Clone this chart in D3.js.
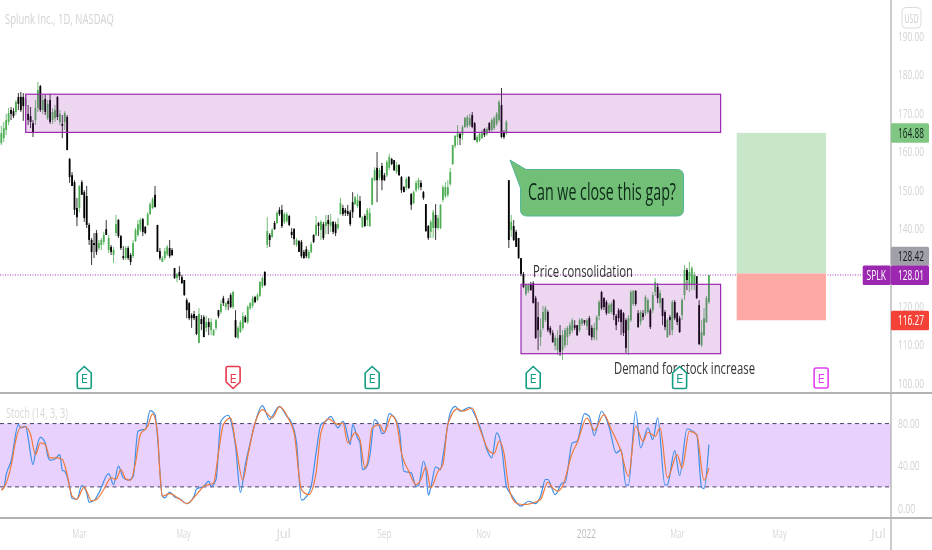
<!DOCTYPE html>
<html><head><meta charset="utf-8">
<script src="https://cdn.jsdelivr.net/npm/d3@7/dist/d3.min.js"></script>
<style>html,body{margin:0;padding:0;background:#fff;overflow:hidden}svg{display:block;filter:blur(0.45px)}text{font-family:"Liberation Sans Narrow","Open Sans",sans-serif}</style>
</head><body><svg id="c" width="932" height="550"></svg>
<script>
// Daily candles, bar by bar
const highs=[
166.7,167.7,169.8,171.3,171.6,171.3,173.4,175.2,175.5,175.2,
174.7,172.1,171.6,168.2,173.4,178.1,177.3,174.7,174.7,173.4,
175,171.3,172.1,174.4,170.8,169.5,170.5,169.5,158.4,154.7,
152.6,148,151.3,152.6,150,151.1,141.5,137.6,138.9,139.7,
137.1,137.6,139.2,142.3,138.4,135.8,135.3,143.6,142.5,138.4,
135.5,135.5,135.5,133.7,137.1,140.2,142.3,142.8,142.8,140.7,
144.3,146.9,148.2,151.1,141,135,132.9,135,135.8,137.1,
135,129.8,128.5,130.3,128,126.7,122,121,118.1,118.7,
117.4,119.4,117.6,117.6,117.4,116.8,116.8,114,116.6,118.9,
121.5,122.6,121,122,123.3,123.9,118.9,114.8,116.3,118.4,
117.6,120.2,121,122.6,122.6,123.3,126.4,127.7,129,143,
138.9,140.2,142,144.6,145.6,146.2,144.3,144.3,143.6,140.2,
140.2,137.6,137.1,137.1,134.5,135.5,134.5,136.6,138.6,143.3,
141.8,142.3,141.8,143.6,143.6,143.8,142,141.8,142.8,148,
146.2,145.4,146.2,144.9,149.5,148.5,149,148.5,143.3,143.8,
145.4,145.4,153.2,156,159.9,155.8,157.1,154.5,157.8,159.4,
158.4,157.8,157.3,156.8,153.7,151.1,153.4,153.7,149.3,150,
152.6,153.2,152.6,149.8,146.4,141,142.3,144.9,146.4,143.6,
146.4,151.3,152.1,152.6,155.8,161.7,164.3,166.9,165.1,166.9,
169,169.5,169.8,170.3,167.7,164.3,165.1,165.6,166.1,166.4,
167.7,168.7,169.2,170.3,173.4,176.5,165.6,168.2,152.6,143.6,
142.3,139.7,137.6,132.4,128.8,125.7,125.7,126.2,126.4,122.6,
121,116.8,120,120,118.9,114.8,113.7,112.4,113.7,115,
113.7,114.3,114.8,115.8,116.8,116.3,115,116.8,116.8,116.3,
116.8,117.4,115,115.6,117.6,121.5,123.9,122.3,121.5,120.7,
121,121.8,117.9,119.4,119.2,118.4,116.8,117.6,124.1,124.1,
124.1,118.9,118.9,118.9,122.8,122,119.4,123.6,127.2,125.9,
124.1,122,118.9,116.8,117.6,121.5,121.5,118.4,117.4,122,
130.6,129.8,131.4,130.3,128.8,127.7,121.5,116.3,119.4,122.6,128];
const bodyTops=[
164.8,166.1,168.2,170,170.8,170.5,172.9,174.2,174.2,174.2,
173.7,169.8,169.2,167.4,171.3,176,177,173.4,173.7,172.4,
173.4,170.3,170.8,174.2,169.8,167.2,170,169,158.1,153.9,
152.1,145.4,151.1,152.1,149.5,148.5,141,137.1,136.3,138.9,
136.3,137.1,138.4,139.9,137.6,135.3,134.5,141.2,142.3,138.1,
132.9,135,135,133.2,136.3,139.7,141.2,142.3,142.5,140.5,
143.8,146.4,147.7,148.8,141,134.2,132.4,134.2,135.3,135,
134.5,129.8,128.3,128.8,127.5,126.7,121.5,120.7,117.6,117.9,
117.4,117.9,116.6,117.1,115.8,115.8,115.8,113.7,116.3,118.9,
120.5,122,120.7,121.3,122.8,123.6,116.3,114.3,115.8,117.4,
117.1,119.7,120.7,122,122.3,122.8,126.2,127.2,128.8,139.4,
138.4,139.7,141.5,144.1,144.9,144.9,143.8,143.8,143.3,139.2,
139.9,137.1,136.8,136.6,134,134.7,134,136,138.4,141,
141.5,141.8,141.2,141.8,142.3,141.8,141.8,141.2,141.2,146.7,
145.4,144.9,144.6,144.3,146.9,148.2,147.5,147.2,143,143.3,
144.9,144.1,153.2,155.2,155.8,155.2,156.3,153.9,157.3,158.6,
158.1,157.8,156.5,156.5,153.4,150.8,152.9,153.4,149,149.5,
151.9,152.6,151.9,149.5,146.4,140.7,141.8,144.3,143.6,142.8,
146.2,150.8,150.8,150.8,154.7,161.7,164.1,164.8,164.6,166.4,
168.7,169,168.7,169.5,167.4,163.8,164.6,165.1,165.9,165.9,
167.4,168.2,168.7,169.8,172.9,172.1,165.1,167.7,152.6,141.8,
140.7,139.2,137.6,132.4,128.3,125.4,125.4,125.7,125.9,122,
117.1,113.7,118.4,119.4,118.4,114.3,113,111.7,111.7,112.4,
112.4,113.7,114.3,115,116.3,115,115,116.3,116.6,116.3,
116.3,116.8,114.3,114.3,117.1,121,123.6,122,121,120.2,
120.5,121.5,117.4,118.9,118.9,118.1,116.3,116.8,123.6,123.9,
123.9,118.1,118.4,118.1,122.3,121.5,118.9,122.8,126.2,124.9,
123.3,122,118.4,116.3,117.1,121,121,118.1,116.8,121.5,
129.3,129.3,128.8,129.8,128,127.7,120.2,113.2,116.8,122,128];
const bodyBottoms=[
162.2,163.5,165.6,167.7,169.8,169.2,170.3,172.4,170.8,171.8,
171.8,168.2,167.7,165.1,168.2,171.3,170.8,170.8,170.3,168.7,
167.7,168.2,168.7,169,167.7,166.7,167.7,160.4,153.4,151.1,
144.9,143,145.4,148.8,142.8,141,137.1,134,135.8,134,
135,135.8,136.6,138.4,134.5,134,133.2,138.9,138.1,135,
132.4,132.4,132.4,131.4,132.9,136.8,138.4,139.7,139.2,138.9,
141,143.8,145.4,145.6,134,132.4,131.4,132.4,133.4,132.9,
133.2,127.2,127.2,127.7,125.9,122.8,118.9,116.8,116.8,116.8,
112.7,110.4,115.3,111.9,114.3,114.5,113.7,112.4,114.3,117.4,
118.4,120.7,119.7,120.5,119.7,119.7,111.9,111.7,113.2,114.3,
115.8,115.8,119.4,120,121,121.5,122.6,125.1,125.4,135.8,
137.1,137.9,139.9,141.5,143.8,140.7,141.8,142,141,138.4,
137.3,135.8,134,132.9,132.4,132.9,132.4,134,136.6,138.4,
140.7,139.7,137.6,140.7,141.2,140.7,139.2,138.9,140.2,143.8,
143.8,144.1,143.8,141.2,144.3,146.4,145.9,143,140.5,140.7,
142.3,140.7,146.2,152.6,152.6,153.2,152.6,152.6,153.9,155.8,
156.8,155.2,154.7,153.9,150,149.5,150.6,150.6,146.2,146.7,
150,150.6,150.8,148,139.4,137.6,139.2,140.2,140.2,140.2,
140.2,147.5,148.5,148.8,151.6,156.8,161.5,163.8,163.5,164.3,
166.4,166.7,166.9,166.4,163,162.5,163,163.5,164.3,164.6,
165.6,165.6,166.1,167.2,168.2,163.8,163.8,164.8,137.1,139.7,
137.1,135.3,132.4,128.3,124.9,123.1,123.9,124.1,120.7,111.7,
113.7,111.9,114.3,116.3,113.7,113,110.6,109.6,108.5,108,
108.5,109.8,111.9,112.7,113.7,114.3,112.4,113.7,115.3,115.6,
114.8,112.4,111.9,111.7,113.7,117.4,119.4,119.7,118.1,118.1,
118.4,117.6,115,116.8,115.8,113,109.1,113.7,116.3,120.5,
120.5,114.5,115.8,117.1,118.1,118.4,114.5,118.9,123.6,122,
120.7,117.4,114.5,111.9,116.3,113.7,116.8,115.8,113.2,117.6,
122.8,126.7,125.4,125.4,125.7,122,110.1,109.8,112.4,115.8,121];
const lows=[
161.7,162.5,164.3,166.9,168.2,168.7,169.5,170.8,170.3,168,
165.6,166.9,166.1,163.8,166.9,170.3,170.3,169.8,169.5,168.2,
167.2,167.2,167.7,168.2,166.9,163.5,165.6,160.4,151.9,151.1,
143.6,140.7,144.3,148.8,141.8,140.2,135.8,130.6,132.4,133.2,
134.5,134.5,135.8,138.4,133.7,133.2,131.1,138.1,137.6,134.5,
131.9,131.9,131.9,130.6,132.4,136.6,137.9,139.2,138.1,138.6,
140.7,143.6,145.1,145.6,134,131.9,131.4,131.9,132.9,132.4,
132.9,127,126.2,126.7,125.7,122.6,116.8,116.3,114.3,116.3,
112.4,110.4,113.7,111.9,113.2,112.4,112.4,112.2,113.7,116.8,
117.9,120,118.9,118.9,119.4,119.2,111.7,111.4,113,113.7,
115.6,115.3,118.9,119.4,120.7,121.3,122.3,124.6,125.1,135,
135.3,137.6,139.7,141.2,143.3,140.2,141.2,141.5,140.7,137.6,
135.8,135.3,134,132.4,132.2,132.4,132.2,133.7,136.3,138.1,
138.1,137.1,137.1,138.6,138.6,139.2,138.6,138.1,139.7,143.6,
143.3,143.3,143.3,140.7,142.8,146.2,145.4,142.8,140.2,140.5,
140.7,140.5,146.2,152.4,146.9,152.6,150,152.4,153.4,155.2,
156.5,155,154.2,153.7,149.3,149.5,150,150.3,144.9,146.4,
149.5,150,150,147.5,139.2,137.1,137.6,137.6,137.1,139.7,
139.9,146.9,148,148.2,151.1,156.5,160.9,161.7,161.7,163,
166.1,166.1,166.4,166.1,163,162.2,162.5,163.3,163.8,164.1,
165.1,165.1,165.6,166.7,167.7,163.5,163.3,164.3,135,137.9,
136.8,135.3,132.2,127.7,124.6,122.6,123.3,123.9,120.7,111.4,
108.5,109.6,113.7,115.8,113.2,112.4,110.4,108.5,107.3,107,
106,109.1,109.8,112.2,113,113.7,112.2,113.2,114.8,115,
113.7,112.2,111.1,111.1,111.1,116.3,118.9,118.9,117.6,117.9,
117.9,116.3,113.7,115.8,112.4,112.2,107.8,107.3,115.8,120,
120,114.3,115,116.3,117.4,117.9,114,118.1,122.6,120.7,
119.4,115,113.7,111.7,112.4,112.4,116.3,115,113,116.3,
121.5,124.1,123.6,124.1,124.1,121.8,109.8,109.3,112.2,115.6,120.5];
const directions=
"uuuudduddd"+"uddduududu"+"duudududdd"+"dduddddddd"+"uuududuudd"+
"dudduuuudd"+"uuuddduuud"+"dduddddddd"+"dudduduuud"+"ududduduuu"+
"duuuduuudu"+"dududduudd"+"dudddduudu"+"dudududduu"+"ddddduudud"+
"uuuududduu"+"ddudddu"+"ddu"+"uudddduudu"+"uuuuuuuudu"+"uuudduuudu"+
"duuuuddudu"+"ddddduuddd"+"duuuddduud"+"uuuuudduud"+"udduuudddu"+
"udddddd"+"uuu"+"dduduuduud"+"uddududddu"+"uduuudduuuu";

// Stochastic %K: turning points (bar number, value)
const kBars=[0,1,2,4,7,8,10,11,13,14,16,18,19,20,22,24,25,26,28,29,31,33,35,36,38,40,44,46,48,50,52,54,56,58,59,61,63,64,66,67,69,71,73,76,79,80,83,85,86,88,90,93,94,96,98,100,102,104,107,110,111,114,117,119,121,123,125,127,129,131,133,135,138,140,141,143,144,146,147,148,150,151,153,155,156,157,159,160,163,165,168,170,171,173,174,175,176,178,180,181,184,186,188,192,194,197,199,201,203,205,207,209,213,216,219,221,223,224,227,230,231,234,236,239,241,243,246,249,252,254,256,257,260,262,265,267,269,272,273,276,278,281,285,287,288,290];
const kVals=[17.5,19,31.7,44.3,79,75.9,77.5,66.4,41.2,52.2,67,61.7,49.7,45.3,46.5,50.6,35.8,34.8,20.6,9,8.3,21.3,14.3,5.5,7,14.3,32.6,22.2,39.6,28.5,26.3,29.5,72.7,74.3,74.3,92.3,88.5,68,11.2,9.6,15,10.5,9,4.2,11.2,18.1,20.6,25.4,20.6,27,82.2,87.9,83.2,58.5,15,41.2,61.7,80.6,97,83.8,86.9,96.4,86.9,80.6,61.7,7.4,10.5,20.6,52.2,79,82.2,86.9,75.9,82.2,78.1,60.1,79,66.4,61.7,36.4,40.2,49,83.8,77.5,70.5,71.2,89.5,88.5,75.9,34.8,33.3,20.6,21.3,44.3,36.4,12.1,19,39,36.4,49,90.1,96.4,91.7,95.5,88.5,71.2,55.4,47.5,71.2,58.5,20.6,12.7,1.7,6.4,4.2,11.2,27,27,12.7,23.8,23.8,61.7,63.3,89.5,86.9,68.6,91.7,77.5,52.2,55.4,21.6,21.6,91.7,57,75.9,64.8,85.4,21.6,22.2,54.4,30.7,74.9,69.6,19.7,18.4,60.1];
// Stochastic %D
const dBars=[0,1,4,6,8,10,12,14,16,18,20,23,25,27,29,31,34,35,37,39,42,45,47,49,51,53,55,57,60,62,64,65,66,69,73,76,80,83,87,89,91,94,96,99,101,104,107,111,114,118,120,123,126,129,131,134,138,140,142,145,147,149,150,152,155,157,160,162,164,167,170,172,174,176,179,181,183,187,189,193,196,200,202,204,206,208,211,214,217,221,224,226,228,230,234,236,240,243,247,250,254,257,260,263,265,268,270,273,277,279,282,285,288,290];
const dVals=[16.8,19,39.6,64.8,76.8,76.8,69.6,50.6,61.7,60.1,47.5,47.5,45.9,31.7,11.2,8.3,20,15.9,6.7,8,17.5,28.5,27,36.4,27.6,26.3,42.7,69.6,77.5,89.2,71.2,33.3,11.2,13.7,8.6,4.2,12.7,20.6,23.8,52.2,79,85.4,61.7,26.3,49,80.6,93.3,85.4,95.8,83.2,71.2,17.5,12.7,33.3,71.2,84.4,79,80.6,61.7,71.2,64.8,38,42.7,75.9,79,71.8,87.6,80.6,52.2,34.8,22.2,27,39,19,34.8,41.2,79,93.9,91.7,94.8,75.9,53.8,51.6,63.3,52.2,19,4.8,3.3,4.2,8,24.4,19,15.9,20.6,52.2,61.7,85.4,73.7,88.5,74.3,53.8,30.1,77.5,63.3,71.8,68,75.9,28.5,50.6,38,72.7,69.6,26.3,38];

// Axes
const priceTicks=[190,180,170,160,150,140,120,110,100];
const stochTicks=[80,40,0];
const stochBand=[80,20];
const timeBars=[31.8,74.5,115.5,156.8,197.4,239.6,276.9,318.7,359.3];
const timeLabels=["Mar","May","Jul","Sep","Nov","2022","Mar","May","Jul"];

// Drawings, in price and bar terms
const zoneTop=[174.9,125.6];
const zoneBottom=[165,107.6];
const zoneStartBar=[10,213];
const zoneEndBar=[294.8,294.8];
const positionBars=[301.4,338];
const target=164.88, entry=128.42, stop=116.27, last=128.01;
const earningsBars=[34,95,152,218,278,336];
const earningsKinds=["past","miss","past","past","past","next"];

const W=932,H=550,axisX=891;
const svg=d3.select("#c");
const x=d3.scaleLinear().domain([0,290]).range([1.3,708.9]);
const y=d3.scaleLinear().domain([100,190]).range([383,36]);
const ys=d3.scaleLinear().domain([0,100]).range([508,402.5]);
const upC="#4fae55",dnC="#000";

function fit(sel,perChar){sel.attr("textLength",function(){return this.textContent.length*perChar}).attr("lengthAdjust","spacingAndGlyphs");return sel}

// stoch band
svg.append("rect").attr("x",0).attr("width",axisX).attr("y",ys(stochBand[0])).attr("height",ys(stochBand[1])-ys(stochBand[0])).attr("fill","#e8d2fd");
svg.selectAll(".sb").data(stochBand).join("line").attr("x1",0).attr("x2",axisX).attr("y1",d=>ys(d)).attr("y2",d=>ys(d)).attr("stroke","#4a3a66").attr("stroke-width",1).attr("stroke-dasharray","4 3.5");

// stoch lines
const ln=d3.line().x(d=>x(d[0])).y(d=>ys(d[1])).curve(d3.curveMonotoneX);
svg.append("path").attr("d",ln(kBars.map((b,i)=>[b,kVals[i]]))).attr("fill","none").attr("stroke","#3f8fe8").attr("stroke-width",1.2);
svg.append("path").attr("d",ln(dBars.map((b,i)=>[b,dVals[i]]))).attr("fill","none").attr("stroke","#ee7a3c").attr("stroke-width",1.2);

// last price line
svg.append("line").attr("x1",0).attr("x2",863).attr("y1",y(last)).attr("y2",y(last)).attr("stroke","#a53bbd").attr("stroke-dasharray","1 1.5").attr("stroke-width",1);

// candles
const bars=highs.map((h,i)=>({i,h,l:lows[i],t:bodyTops[i],b:bodyBottoms[i],up:directions[i]==="u"}));
const cg=svg.append("g");
cg.selectAll("line").data(bars).join("line").attr("x1",d=>x(d.i)).attr("x2",d=>x(d.i)).attr("y1",d=>y(d.h)).attr("y2",d=>y(d.l)).attr("stroke",d=>d.up?upC:dnC).attr("stroke-width",.8);
cg.selectAll("rect").data(bars).join("rect").attr("x",d=>x(d.i)-.9).attr("width",1.8).attr("y",d=>y(d.t)).attr("height",d=>Math.max(.8,y(d.b)-y(d.t))).attr("fill",d=>d.up?upC:dnC);

// zones
svg.selectAll(".zone").data(zoneTop).join("rect").attr("x",(d,i)=>x(zoneStartBar[i])).attr("width",(d,i)=>x(zoneEndBar[i])-x(zoneStartBar[i])).attr("y",d=>y(d)).attr("height",(d,i)=>y(zoneBottom[i])-y(d)).attr("fill","#9c27b0").attr("fill-opacity",.19).attr("stroke","#9c27b0").attr("stroke-width",1.2);

// position tool
svg.append("rect").attr("x",x(positionBars[0])).attr("width",x(positionBars[1])-x(positionBars[0])).attr("y",y(target)).attr("height",y(entry)-y(target)).attr("fill","#c8e6c9");
svg.append("rect").attr("x",x(positionBars[0])).attr("width",x(positionBars[1])-x(positionBars[0])).attr("y",y(entry)).attr("height",y(stop)-y(entry)).attr("fill","#ffa9a5");

// callout
svg.append("path").attr("d","M510 160 L526 169.5 H677 Q683.5 169.5 683.5 176 V209.5 Q683.5 216 677 216 H527 Q520.5 216 520.5 209.5 V188 Z").attr("fill","#72bf78").attr("stroke","#55b59a").attr("stroke-width",1);
svg.append("text").text("Can we close this gap?").attr("x",528).attr("y",199.5).attr("font-size",23).attr("fill","#0e2a18").attr("textLength",148).attr("lengthAdjust","spacingAndGlyphs");

// notes
svg.append("text").text("Price consolidation").attr("x",533).attr("y",277).attr("font-size",16).attr("fill","#333").attr("textLength",100).attr("lengthAdjust","spacingAndGlyphs");
svg.append("text").text("Demand for stock increase").attr("x",614).attr("y",374).attr("font-size",16).attr("fill","#333").attr("textLength",141).attr("lengthAdjust","spacingAndGlyphs");

// earnings markers
const mc={past:"#159c82",miss:"#e8394d",next:"#e040f0"};
const eg=svg.selectAll(".em").data(earningsBars).join("g").attr("transform",d=>`translate(${x(d)},0)`);
eg.append("path").attr("d",(d,i)=>{
  const k=earningsKinds[i];
  if(k==="past")return "M-7 373 L0 366.5 L7 373 V387 Q7 388.5 5.5 388.5 H-5.5 Q-7 388.5 -7 387 Z";
  if(k==="miss")return "M-7 368 Q-7 366.5 -5.5 366.5 H5.5 Q7 366.5 7 368 V382 L0 388.5 L-7 382 Z";
  return "M-5 368 H5 Q7 368 7 370 V386 Q7 388 5 388 H-5 Q-7 388 -7 386 V370 Q-7 368 -5 368 Z";
}).attr("fill","#fff").attr("stroke",(d,i)=>mc[earningsKinds[i]]).attr("stroke-width",1.6);
eg.append("text").text("E").attr("text-anchor","middle").attr("y",382.5).attr("font-size",13).attr("fill",(d,i)=>mc[earningsKinds[i]]);

// frame
svg.append("line").attr("x1",0).attr("x2",W).attr("y1",393).attr("y2",393).attr("stroke","#9a9a9a").attr("stroke-width",1.3);
svg.append("line").attr("x1",0).attr("x2",W).attr("y1",518).attr("y2",518).attr("stroke","#9a9a9a").attr("stroke-width",1.3);
svg.append("line").attr("x1",axisX).attr("x2",axisX).attr("y1",0).attr("y2",H).attr("stroke","#b5b5b5").attr("stroke-width",1.4);

// axes
const lc="#d2d2d2";
function styleAxis(g){g.select(".domain").remove();g.selectAll(".tick line").remove();g.selectAll("text").attr("fill",lc).attr("font-size",13)}
const ga=svg.append("g").attr("transform",`translate(${axisX},0)`).call(d3.axisRight(y).tickValues(priceTicks).tickFormat(d3.format(".2f")).tickPadding(1));
styleAxis(ga);fit(ga.selectAll("text"),4.35);
const gs=svg.append("g").attr("transform",`translate(${axisX},0)`).call(d3.axisRight(ys).tickValues(stochTicks).tickFormat(d3.format(".2f")).tickPadding(1));
styleAxis(gs);fit(gs.selectAll("text"),4.35);
const gt=svg.append("g").attr("transform","translate(0,515)").call(d3.axisBottom(x).tickValues(timeBars).tickFormat((d,i)=>timeLabels[i]).tickPadding(8));
styleAxis(gt);fit(gt.selectAll("text"),4.8);
gt.selectAll("text").attr("fill","#d8d8d8");
gt.selectAll("text").filter(function(){return this.textContent==="2022"}).attr("fill","#bdbdbd");

// price labels
const pills=[[target,"#81c784","#10251a"],[entry,"#9fa0a8","#131722"],[last,"#9c27b0","#fff"],[stop,"#f44336","#fff"]];
const pg=svg.selectAll(".pill").data(pills).join("g");
pg.append("rect").attr("x",axisX).attr("width",38).attr("y",d=>d[0]===entry?y(entry)-26.8:y(d[0])-9.6).attr("height",d=>d[0]===entry?19.2:19.6).attr("rx",1.5).attr("fill",d=>d[1]);
pg.append("text").text(d=>d[0].toFixed(2)).attr("x",axisX+7).attr("y",d=>(d[0]===entry?y(entry)-17.2:y(d[0]))+5).attr("font-size",14).attr("fill",d=>d[2]).attr("textLength",26).attr("lengthAdjust","spacingAndGlyphs");
svg.append("rect").attr("x",862.7).attr("width",28).attr("y",y(last)-9.6).attr("height",19.6).attr("rx",1.5).attr("fill","#9c27b0");
svg.append("text").text("SPLK").attr("x",866.5).attr("y",y(last)+5).attr("font-size",14).attr("fill","#fff").attr("textLength",19.5).attr("lengthAdjust","spacingAndGlyphs");

// USD box
svg.append("rect").attr("x",902).attr("y",7.5).attr("width",19).attr("height",20.5).attr("rx",4).attr("fill","#fff").attr("stroke","#dcdcdc");
svg.append("text").text("USD").attr("x",911.5).attr("y",22.5).attr("text-anchor","middle").attr("font-size",13).attr("fill","#cfcfcf").attr("textLength",14).attr("lengthAdjust","spacingAndGlyphs");

// titles
svg.append("text").text("Splunk Inc., 1D, NASDAQ").attr("x",5).attr("y",23.5).attr("font-size",14).attr("fill","#d2d2d2").attr("textLength",109).attr("lengthAdjust","spacingAndGlyphs");
svg.append("text").text("Stoch (14, 3, 3)").attr("x",6).attr("y",418).attr("font-size",14).attr("fill","#d8d8d8").attr("textLength",62).attr("lengthAdjust","spacingAndGlyphs");
</script></body></html>
